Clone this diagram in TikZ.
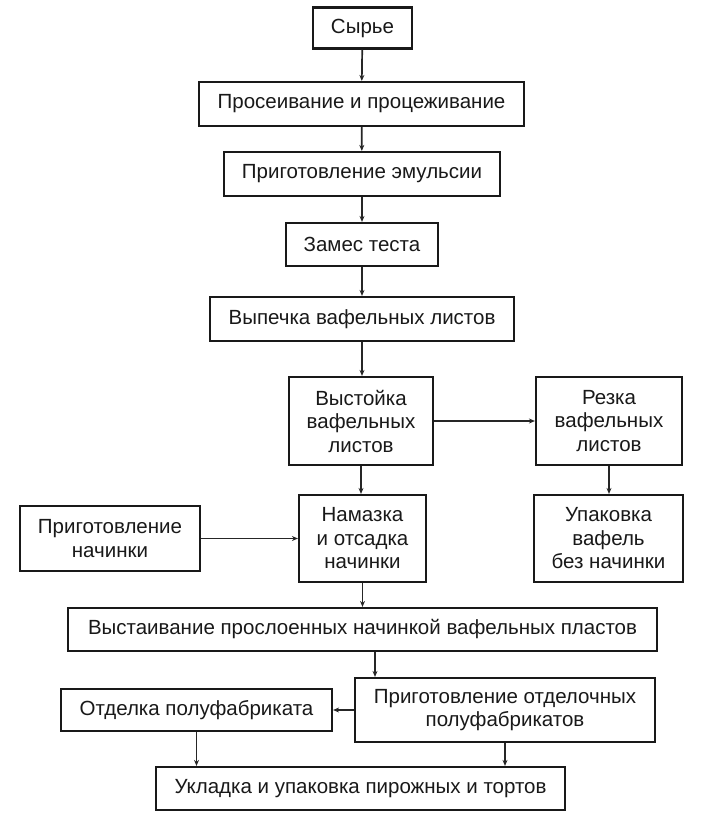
\documentclass[tikz,border=0pt]{standalone}
\usepackage{fontspec}
\setmainfont{Liberation Sans}
\usetikzlibrary{arrows.meta,calc}
\begin{document}
\begin{tikzpicture}[x=1pt,y=-1pt,
  box/.style={draw=black!90, line width=2.2pt, fill=white, align=center, inner sep=0pt,
    text=black!90, font=\fontsize{20.5}{23.5}\selectfont},
  conn/.style={draw=black!85, line width=1.7pt, -{Stealth[length=6pt,width=5pt]}}]
\useasboundingbox[fill=white] (0,0) rectangle (714,816);
\node[box, minimum width=99pt, minimum height=41pt] (syr) at (362.5,28) {Сырье};
\node[box, minimum width=325pt, minimum height=44pt] (pros) at (361.5,104) {Просеивание и процеживание};
\node[box, minimum width=276pt, minimum height=44pt] (emul) at (362,174) {Приготовление эмульсии};
\node[box, minimum width=152pt, minimum height=43pt] (zames) at (362,244.5) {Замес теста};
\node[box, minimum width=304pt, minimum height=44pt] (vyp) at (362,319) {Выпечка вафельных листов};
\node[box, minimum width=144pt, minimum height=88pt] (vyst) at (361,421) {Выстойка\\вафельных\\листов};
\node[box, minimum width=146pt, minimum height=88pt] (rez) at (609,421) {Резка\\вафельных\\листов};
\node[box, minimum width=127pt, minimum height=87pt] (nam) at (362.5,538.5) {Намазка\\и отсадка\\начинки};
\node[box, minimum width=180pt, minimum height=65pt] (prn) at (110,538.5) {Приготовление\\начинки};
\node[box, minimum width=149pt, minimum height=87pt] (upak) at (608.5,538.5) {Упаковка\\вафель\\без начинки};
\node[box, minimum width=589pt, minimum height=43pt] (vyt) at (362.5,629.5) {Выстаивание прослоенных начинкой вафельных пластов};
\node[box, minimum width=300pt, minimum height=64pt] (pro) at (505,710) {Приготовление отделочных\\полуфабрикатов};
\node[box, minimum width=271pt, minimum height=42pt] (otd) at (196.5,710) {Отделка полуфабриката};
\node[box, minimum width=409pt, minimum height=43pt] (ukl) at (360.5,788.5) {Укладка и упаковка пирожных и тортов};
\coordinate (cx) at (375,0);
\draw[conn] (syr) -- (pros);
\draw[conn] (pros) -- (emul);
\draw[conn] (emul) -- (zames);
\draw[conn] (zames) -- (vyp);
\draw[conn] (vyp.south) -- (vyp.south |- vyst.north);
\draw[conn] (vyst) -- (rez);
\draw[conn] (vyst.south) -- (vyst.south |- nam.north);
\draw[conn] (rez.south) -- (rez.south |- upak.north);
\draw[conn] (prn) -- (nam);
\draw[conn] (nam.south) -- (nam.south |- vyt.north);
\draw[conn] (vyt.south -| cx) -- (pro.north -| cx);
\draw[conn] (pro) -- (otd);
\draw[conn] (otd.south) -- (otd.south |- ukl.north);
\draw[conn] (pro.south) -- (pro.south |- ukl.north);
\end{tikzpicture}
\end{document}
